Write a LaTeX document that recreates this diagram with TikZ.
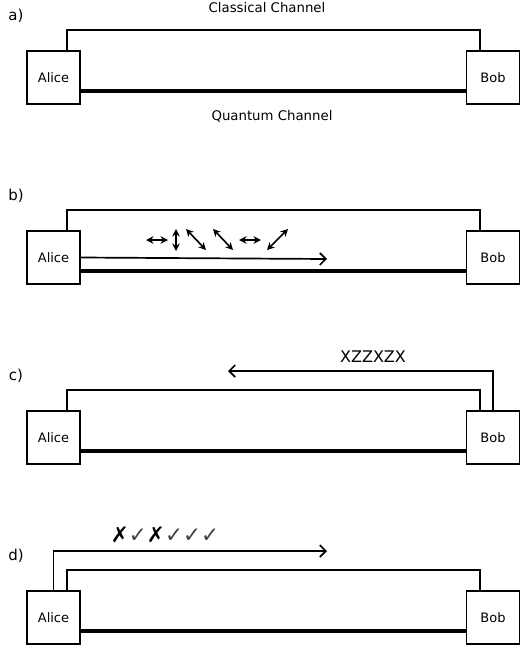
\documentclass[tikz,border=0pt]{standalone}
\usepackage{fontspec}
\setmainfont{DejaVu Sans}
\usetikzlibrary{arrows.meta}

\begin{document}
\begin{tikzpicture}[x = 1pt, y = -1pt]
\tikzstyle{partyStyle} = [shape = rectangle, draw, line width = 1.6pt, minimum width = 53pt, minimum height = 53pt, inner sep = 0pt, font = \fontsize{13}{15}\selectfont]
\tikzstyle{classicalStyle} = [line width = 1.7pt]
\tikzstyle{quantumStyle} = [line width = 3.2pt]
\tikzstyle{channelLabel} = [font = \fontsize{13.3}{15}\selectfont]
\tikzstyle{panelLabel} = [font = \fontsize{15}{17}\selectfont]
\tikzstyle{sendStyle} = [line width = 1.7pt, -{Straight Barb[length = 6pt, width = 12pt, line width = 1.7pt]}]
\tikzstyle{polStyle} = [line width = 1.6pt, {Stealth[length = 7.5pt, width = 7.5pt]}-{Stealth[length = 7.5pt, width = 7.5pt]}]
\useasboundingbox (0,0) rectangle (520,645);
% a) the two channels
\node[panelLabel] (labA) at (16,16) {a)};
\node[partyStyle] (aliceA) at (53.5,77.5) {Alice};
\node[partyStyle] (bobA) at (493,77.5) {Bob};
\draw[classicalStyle] ([xshift = 13.5pt]aliceA.north) -- ++(0,-20) -| ([xshift = -13pt]bobA.north);
\draw[quantumStyle] ([yshift = -13.5pt]aliceA.east) -- ([yshift = -13.5pt]bobA.west);
\node[channelLabel] (classical) at (267,8) {Classical Channel};
\node[channelLabel] (quantum) at (272,116) {Quantum Channel};
% b) Alice sends photons
\node[panelLabel] (labB) at (16,196) {b)};
\node[partyStyle] (aliceB) at (53.5,257.5) {Alice};
\node[partyStyle] (bobB) at (493,257.5) {Bob};
\draw[classicalStyle] ([xshift = 13.5pt]aliceB.north) -- ++(0,-20) -| ([xshift = -13pt]bobB.north);
\draw[quantumStyle] ([yshift = -13.5pt]aliceB.east) -- ([yshift = -13.5pt]bobB.west);
\coordinate (photonEnd) at (327,259);
\draw[sendStyle] (aliceB.east) -- (photonEnd);
\draw[polStyle] (146,240) -- (168,240);
\draw[polStyle] (176,229) -- (176,251);
\draw[polStyle] (186,229) -- (206,250);
\draw[polStyle] (213,229) -- (233,250);
\draw[polStyle] (239,240) -- (261,240);
\draw[polStyle] (267,250) -- (288,229);
% c) Bob announces his bases
\node[panelLabel] (labC) at (16,376) {c)};
\node[partyStyle] (aliceC) at (53.5,437.5) {Alice};
\node[partyStyle] (bobC) at (493,437.5) {Bob};
\draw[classicalStyle] ([xshift = 13.5pt]aliceC.north) -- ++(0,-20) -| ([xshift = -13pt]bobC.north);
\draw[quantumStyle] ([yshift = -13.5pt]aliceC.east) -- ([yshift = -13.5pt]bobC.west);
\coordinate (basisEnd) at (228,371);
\draw[sendStyle] (bobC.north) |- (basisEnd);
\node[font = \fontsize{16}{18}\selectfont] (bases) at (373,357) {XZZXZX};
% d) Alice answers
\node[panelLabel] (labD) at (16,556) {d)};
\node[partyStyle] (aliceD) at (53.5,617.5) {Alice};
\node[partyStyle] (bobD) at (493,617.5) {Bob};
\draw[classicalStyle] ([xshift = 13.5pt]aliceD.north) -- ++(0,-20) -| ([xshift = -13pt]bobD.north);
\draw[quantumStyle] ([yshift = -13.5pt]aliceD.east) -- ([yshift = -13.5pt]bobD.west);
\coordinate (checkEnd) at (327,551);
\draw[sendStyle] (aliceD.north) |- (checkEnd);
\node[font = \fontsize{21.5}{23}\selectfont, inner sep = 0pt] (checks) at (165,535) {✗\textcolor{darkgray}{✓}✗\textcolor{darkgray}{✓✓✓}};
\end{tikzpicture}
\end{document}
